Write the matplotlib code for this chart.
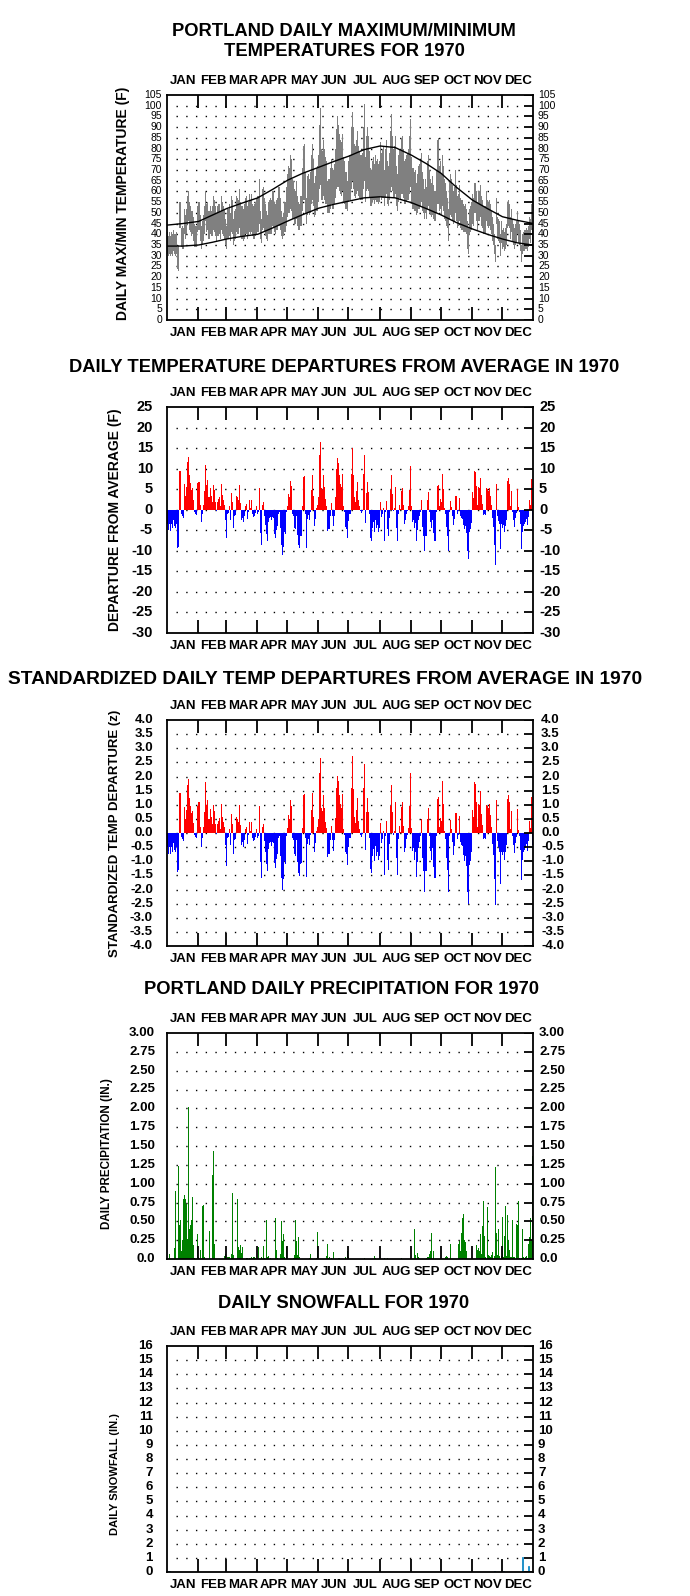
import numpy as np
import matplotlib
matplotlib.use('Agg')
import matplotlib.pyplot as plt

# ---------------- DATA ----------------
months = ['JAN', 'FEB', 'MAR', 'APR', 'MAY', 'JUN', 'JUL', 'AUG', 'SEP', 'OCT', 'NOV', 'DEC']
month_starts = [0, 31, 59, 90, 120, 151, 181, 212, 243, 273, 304, 334, 365]

# daily maximum temperature (F)
tmax = [
    41, 39, 41, 39, 41, 40, 42, 40, 40, 41, 34, 35, 55, 55, 43, 44, 43, 52, 49, 52, 58, 60, 55, 53, 51, 51, 48, 45, 44, 44, 53,
    55, 55, 49, 44, 46, 49, 53, 60, 54, 55, 51, 51, 53, 51, 53, 58, 56, 53, 50, 53, 54, 54, 51, 58, 55, 53, 52, 47,
    44, 52, 52, 54, 50, 58, 56, 47, 51, 52, 58, 57, 56, 61, 55, 53, 53, 52, 54, 57, 58, 53, 55, 59, 56, 59, 54, 53, 54, 55, 57,
    58, 58, 66, 51, 47, 61, 62, 57, 54, 51, 49, 55, 56, 57, 56, 60, 60, 55, 54, 56, 57, 62, 62, 57, 51, 48, 50, 55, 55, 62,
    68, 72, 71, 77, 75, 66, 65, 61, 60, 65, 58, 55, 54, 58, 58, 71, 81, 82, 69, 57, 67, 68, 66, 69, 77, 82, 75, 64, 67, 71, 72,
    77, 91, 99, 80, 79, 84, 80, 76, 74, 65, 66, 66, 71, 75, 71, 70, 73, 80, 89, 95, 91, 87, 84, 83, 87, 76, 74, 69, 69, 65,
    74, 77, 90, 97, 90, 82, 81, 84, 88, 81, 79, 77, 77, 78, 90, 101, 76, 86, 90, 86, 79, 71, 70, 74, 76, 73, 77, 74, 75, 73, 74,
    83, 78, 80, 81, 70, 80, 84, 74, 72, 78, 88, 96, 86, 80, 81, 86, 72, 68, 77, 80, 79, 85, 86, 80, 74, 75, 77, 78, 80, 86, 94,
    76, 71, 71, 69, 70, 64, 68, 72, 73, 74, 78, 69, 66, 61, 66, 62, 74, 77, 70, 66, 64, 67, 63, 60, 60, 70, 84, 85, 72, 74,
    68, 77, 72, 66, 64, 60, 57, 52, 65, 68, 66, 63, 60, 62, 70, 63, 58, 59, 63, 57, 56, 56, 54, 53, 54, 52, 46, 43, 52, 53, 55,
    59, 57, 64, 64, 60, 55, 60, 60, 63, 58, 56, 53, 53, 53, 60, 56, 55, 56, 54, 51, 48, 45, 40, 35, 57, 48, 47, 46, 40, 46,
    42, 43, 41, 43, 45, 55, 56, 54, 48, 52, 47, 45, 43, 45, 46, 51, 46, 45, 42, 35, 40, 41, 42, 42, 43, 42, 44, 48, 47, 54, 43,
]
# daily minimum temperature (F)
tmin = [
    31, 30, 31, 30, 31, 30, 32, 31, 30, 31, 24, 23, 43, 43, 34, 33, 33, 40, 38, 40, 45, 46, 42, 41, 39, 40, 37, 34, 34, 34, 41,
    42, 42, 37, 33, 35, 37, 40, 46, 41, 42, 38, 38, 40, 39, 39, 42, 41, 39, 37, 39, 39, 40, 38, 42, 40, 39, 38, 35,
    33, 38, 38, 39, 37, 41, 40, 35, 37, 38, 41, 40, 40, 43, 39, 38, 38, 37, 38, 40, 40, 38, 39, 41, 40, 41, 39, 38, 38, 39, 40,
    41, 41, 45, 38, 36, 42, 43, 41, 39, 38, 37, 40, 40, 40, 40, 44, 43, 41, 40, 42, 42, 44, 44, 42, 39, 38, 39, 41, 41, 44,
    48, 50, 50, 52, 51, 47, 47, 45, 45, 47, 44, 42, 42, 44, 44, 51, 56, 56, 50, 45, 49, 50, 49, 50, 54, 56, 53, 48, 49, 51, 51,
    55, 61, 63, 56, 56, 58, 56, 54, 54, 50, 50, 50, 52, 54, 52, 52, 54, 57, 61, 62, 62, 60, 59, 58, 60, 55, 54, 52, 52, 51,
    55, 56, 61, 65, 61, 58, 57, 59, 60, 58, 57, 56, 56, 56, 61, 65, 55, 60, 61, 60, 57, 53, 53, 55, 56, 54, 56, 55, 55, 54, 55,
    58, 56, 57, 57, 53, 57, 59, 54, 53, 56, 60, 62, 60, 57, 57, 59, 53, 51, 55, 57, 56, 59, 59, 57, 54, 54, 55, 56, 56, 59, 62,
    54, 52, 52, 51, 51, 49, 50, 52, 52, 53, 55, 51, 50, 47, 50, 47, 52, 53, 50, 49, 48, 49, 47, 46, 46, 50, 54, 54, 51, 52,
    49, 53, 51, 47, 46, 44, 43, 37, 47, 49, 48, 46, 45, 46, 50, 46, 43, 44, 46, 43, 42, 42, 41, 41, 41, 40, 33, 31, 40, 41, 42,
    45, 44, 50, 50, 46, 42, 46, 46, 48, 44, 43, 40, 40, 40, 46, 44, 43, 44, 42, 40, 37, 35, 31, 27, 45, 38, 37, 36, 30, 36,
    33, 34, 32, 33, 35, 43, 44, 43, 38, 41, 37, 35, 33, 35, 36, 40, 36, 35, 32, 27, 31, 32, 32, 33, 33, 32, 34, 38, 36, 42, 33,
]

# normal max / min temperature curves (day of year, F)
normal_days = [0, 15, 31, 45, 59, 74, 90, 105, 120, 135, 151, 166, 181, 196, 212, 227, 243, 258, 273, 288, 304, 319, 334, 349, 364]
normal_max = [44.3, 45.0, 46.0, 49.0, 52.0, 54.5, 57.0, 61.0, 65.3, 68.5, 71.3, 74.0, 76.5, 79.5, 81.2, 80.5, 77.0, 73.0, 68.4, 62.0, 56.0, 52.0, 48.2, 46.5, 45.1]
normal_min = [34.5, 34.5, 35.0, 36.3, 37.8, 39.0, 40.0, 43.0, 46.2, 49.2, 52.2, 54.0, 55.5, 57.0, 57.5, 57.0, 54.8, 52.0, 49.0, 45.5, 42.5, 40.0, 37.8, 36.0, 35.0]

# daily temperature departure from average (F)
departure = [
    -3.5, -5.0, -3.5, -5.2, -3.5, -4.5, -2.5, -4.0, -4.5, -3.5, -9.3, -9.0, 9.5, 9.5, -1.0, -1.5, -2.0, 6.3, 3.3, 5.5, 11.5, 12.9, 8.4, 6.5, 4.8, 5.3, 2.4, -0.5, -1.0, -1.2, 6.5,
    6.7, 6.7, 1.2, -3.0, -1.0, 1.2, 4.6, 11.0, 6.0, 7.2, 3.0, 3.0, 5.2, 3.4, 2.0, 6.0, 4.8, 2.0, -0.3, 2.0, 2.5, 3.2, 0.8, 6.2, 3.5, 2.4, 1.2, -2.6,
    -7.0, -1.0, -0.8, 0.8, -2.6, 4.0, 2.0, -4.5, -1.5, -1.2, 3.4, 3.0, 2.3, 6.0, 1.6, -2.5, -2.0, -3.0, -1.5, 0.8, 1.4, -2.3, -0.5, 2.4, 0.5, 2.4, -1.0, -1.8, -1.5, -0.8, 0.8,
    -1.0, -0.5, 5.3, -5.6, -8.7, 1.1, 1.8, -1.5, -3.7, -6.0, -7.5, -3.0, -2.0, -1.7, -2.5, -1.8, -2.0, -5.8, -6.8, -5.0, -4.0, -1.0, -0.5, -4.5, -8.7, -11.0, -9.0, -5.5, -6.0, -0.5,
    1.0, 3.9, 3.0, 7.0, 5.7, -1.0, -1.5, -4.5, -4.8, -1.5, -6.2, -8.6, -9.2, -6.5, -6.3, 1.0, 8.0, 8.2, -1.0, -9.3, -2.3, -1.2, -2.5, -0.5, 4.8, 8.4, 3.4, -4.0, -2.2, 0.5, 1.2,
    3.0, 13.2, 16.5, 5.4, 4.8, 8.4, 5.5, 2.5, 1.0, -5.2, -4.6, -4.6, -1.5, 1.6, -1.5, -4.0, -1.5, 3.2, 10.0, 12.6, 11.4, 8.4, 6.3, 5.5, 8.6, 0.8, -0.5, -4.3, -4.6, -7.0,
    -2.7, -1.0, 8.8, 15.0, 8.5, 3.1, 2.0, 4.5, 6.8, 2.4, 0.8, -0.4, -0.8, -0.3, 8.8, 13.4, -3.3, 4.0, 6.8, 4.2, -1.0, -7.0, -7.7, -4.5, -3.0, -5.5, -2.5, -4.4, -3.8, -5.3, -4.5,
    1.8, -1.8, -1.0, 0.3, -7.5, -0.5, 2.1, -4.8, -6.5, -2.0, 4.8, 8.5, 3.8, -0.3, 0.4, 5.5, -4.5, -7.5, -1.0, 1.2, 0.2, 4.6, 5.4, 1.2, -3.4, -2.6, -1.0, -0.3, 0.8, 4.8, 10.6,
    0.8, -3.0, -2.6, -4.5, -3.3, -7.5, -5.0, -2.5, -1.5, -0.5, 2.4, -4.3, -6.5, -10.0, -6.5, -6.5, 2.4, 4.2, -0.5, -3.0, -4.5, -2.5, -5.7, -7.7, -7.7, -0.5, 5.8, 6.1, 1.0, 2.5,
    2.0, 8.8, 5.0, 0.3, -1.0, -4.3, -6.3, -10.0, -0.5, 2.2, 0.6, -1.6, -3.7, -2.2, 3.4, 3.4, -1.0, -0.3, 2.9, -1.6, -2.1, -2.2, -3.7, -4.7, -4.0, -5.6, -10.0, -12.0, -5.5, -4.8, -3.3,
    4.4, 2.9, 9.5, 9.3, 5.8, 1.2, 5.5, 5.2, 7.8, 3.5, 1.5, -1.2, -1.0, -1.2, 5.2, 5.0, 4.6, 5.4, 3.3, 1.1, -2.0, -4.2, -8.6, -13.5, 6.2, -1.5, -2.7, -3.5, -9.5, -3.5,
    -4.5, -3.8, -5.5, -4.0, -2.4, 7.0, 7.8, 6.3, 0.8, 4.6, -0.5, -2.5, -4.2, -2.0, -0.8, 5.0, 0.6, -0.6, -3.5, -9.6, -5.5, -4.0, -3.5, -3.0, -2.3, -3.6, -1.7, 2.4, 1.1, 7.5, -2.4,
]

# standardized daily temperature departure (z)
zdep = [
    -0.51, -0.74, -0.51, -0.76, -0.51, -0.66, -0.37, -0.59, -0.66, -0.51, -1.37, -1.32, 1.40, 1.40, -0.15, -0.22, -0.29, 0.93, 0.49, 0.81, 1.69, 1.90, 1.24, 0.96, 0.71, 0.78, 0.35, -0.07, -0.15, -0.18, 0.96,
    1.10, 1.10, 0.20, -0.49, -0.16, 0.20, 0.75, 1.80, 0.98, 1.18, 0.49, 0.49, 0.85, 0.56, 0.33, 0.98, 0.79, 0.33, -0.05, 0.33, 0.41, 0.52, 0.13, 1.02, 0.57, 0.39, 0.20, -0.43,
    -1.17, -0.17, -0.13, 0.13, -0.43, 0.67, 0.33, -0.75, -0.25, -0.20, 0.57, 0.50, 0.38, 1.00, 0.27, -0.42, -0.33, -0.50, -0.25, 0.13, 0.23, -0.38, -0.08, 0.40, 0.08, 0.40, -0.17, -0.30, -0.25, -0.13, 0.13,
    -0.18, -0.09, 0.96, -1.02, -1.58, 0.20, 0.33, -0.27, -0.67, -1.09, -1.36, -0.55, -0.36, -0.31, -0.45, -0.33, -0.36, -1.05, -1.24, -0.91, -0.73, -0.18, -0.09, -0.82, -1.58, -2.00, -1.64, -1.00, -1.09, -0.09,
    0.17, 0.65, 0.50, 1.17, 0.95, -0.17, -0.25, -0.75, -0.80, -0.25, -1.03, -1.43, -1.53, -1.08, -1.05, 0.17, 1.33, 1.37, -0.17, -1.55, -0.38, -0.20, -0.42, -0.08, 0.80, 1.40, 0.57, -0.67, -0.37, 0.08, 0.20,
    0.48, 2.13, 2.66, 0.87, 0.77, 1.35, 0.89, 0.40, 0.16, -0.84, -0.74, -0.74, -0.24, 0.26, -0.24, -0.65, -0.24, 0.52, 1.61, 2.03, 1.84, 1.35, 1.02, 0.89, 1.39, 0.13, -0.08, -0.69, -0.74, -1.13,
    -0.49, -0.18, 1.60, 2.73, 1.55, 0.56, 0.36, 0.82, 1.24, 0.44, 0.15, -0.07, -0.15, -0.05, 1.60, 2.44, -0.60, 0.73, 1.24, 0.76, -0.18, -1.27, -1.40, -0.82, -0.55, -1.00, -0.45, -0.80, -0.69, -0.96, -0.82,
    0.36, -0.36, -0.20, 0.06, -1.50, -0.10, 0.42, -0.96, -1.30, -0.40, 0.96, 1.70, 0.76, -0.06, 0.08, 1.10, -0.90, -1.50, -0.20, 0.24, 0.04, 0.92, 1.08, 0.24, -0.68, -0.52, -0.20, -0.06, 0.16, 0.96, 2.12,
    0.17, -0.63, -0.54, -0.94, -0.69, -1.56, -1.04, -0.52, -0.31, -0.10, 0.50, -0.90, -1.35, -2.08, -1.35, -1.35, 0.50, 0.88, -0.10, -0.63, -0.94, -0.52, -1.19, -1.60, -1.60, -0.10, 1.21, 1.27, 0.21, 0.52,
    0.42, 1.83, 1.04, 0.06, -0.21, -0.90, -1.31, -2.08, -0.10, 0.46, 0.13, -0.33, -0.77, -0.46, 0.71, 0.71, -0.21, -0.06, 0.60, -0.33, -0.44, -0.46, -0.77, -0.98, -0.83, -1.17, -2.08, -2.50, -1.15, -1.00, -0.69,
    0.83, 0.55, 1.79, 1.75, 1.09, 0.23, 1.04, 0.98, 1.47, 0.66, 0.28, -0.23, -0.19, -0.23, 0.98, 0.94, 0.87, 1.02, 0.62, 0.21, -0.38, -0.79, -1.62, -2.55, 1.17, -0.28, -0.51, -0.66, -1.79, -0.66,
    -0.78, -0.66, -0.95, -0.69, -0.41, 1.21, 1.34, 1.09, 0.14, 0.79, -0.09, -0.43, -0.72, -0.34, -0.14, 0.86, 0.10, -0.10, -0.60, -1.66, -0.95, -0.69, -0.60, -0.52, -0.40, -0.62, -0.29, 0.41, 0.19, 1.29, -0.41,
]

# daily precipitation (inches) on days with measurable amounts
precip_days = [2, 7, 8, 11, 12, 13, 14, 15, 16, 17, 18, 19, 20, 21, 22, 23, 24, 25, 26, 27, 30, 31, 33, 35, 36, 37, 42, 45, 46, 47,
               57, 58, 60, 61, 62, 64, 65, 66, 70, 71, 72, 73, 74, 75, 79, 80, 82, 83, 84, 85, 86, 87, 88, 91, 94, 96, 97, 99, 100, 101,
               103, 108, 109, 110, 113, 114, 115, 116, 117, 119, 126, 127, 128, 129, 130, 131, 132, 142, 143, 149, 150, 159, 160, 161, 162, 164, 166, 171, 172, 178,
               180, 181, 196, 206, 207, 216, 219, 233, 242, 243, 246, 247, 249, 250, 251, 258, 259, 260, 261, 262, 263, 265, 277, 278, 279, 282, 290, 291, 292, 293,
               294, 295, 296, 297, 298, 308, 309, 310, 311, 312, 313, 314, 315, 316, 317, 319, 320, 321, 322, 323, 324, 326, 327, 328, 329, 330, 331, 333, 334, 335,
               336, 337, 338, 339, 340, 341, 342, 343, 344, 345, 346, 348, 349, 350, 351, 353, 354, 355, 356, 357, 358, 360, 361, 362, 363, 364]
precip_vals = [0.07, 0.14, 0.90, 1.24, 0.45, 0.52, 0.10, 0.25, 0.80, 0.85, 0.80, 0.73, 0.27, 2.02, 0.40, 0.45, 0.52, 0.82, 0.18, 0.01, 0.33, 0.02, 0.12, 0.70, 0.72, 0.02, 0.37, 1.12, 1.43, 0.20,
               0.04, 0.06, 0.03, 0.02, 0.02, 0.06, 0.88, 0.05, 0.80, 0.16, 0.12, 0.18, 0.08, 0.16, 0.01, 0.01, 0.01, 0.01, 0.02, 0.01, 0.02, 0.03, 0.01, 0.16, 0.02, 0.17, 0.01, 0.52, 0.02, 0.04,
               0.01, 0.54, 0.12, 0.01, 0.07, 0.50, 0.24, 0.33, 0.02, 0.16, 0.01, 0.05, 0.52, 0.24, 0.05, 0.29, 0.02, 0.01, 0.06, 0.01, 0.36, 0.04, 0.20, 0.01, 0.02, 0.01, 0.09, 0.01, 0.01, 0.03,
               0.10, 0.03, 0.01, 0.04, 0.01, 0.01, 0.01, 0.01, 0.01, 0.01, 0.40, 0.05, 0.08, 0.02, 0.01, 0.01, 0.02, 0.02, 0.06, 0.10, 0.35, 0.11, 0.02, 0.04, 0.02, 0.20, 0.20, 0.24, 0.10, 0.35,
               0.54, 0.60, 0.25, 0.22, 0.10, 0.18, 0.12, 0.15, 0.10, 0.33, 0.07, 0.44, 0.77, 0.30, 0.03, 0.69, 0.05, 0.04, 0.03, 0.05, 0.09, 0.04, 1.22, 0.35, 0.05, 0.40, 0.04, 0.04, 0.56, 0.03,
               0.30, 0.71, 0.04, 0.58, 0.25, 0.12, 0.03, 0.02, 0.52, 0.03, 0.02, 0.47, 0.45, 0.77, 0.01, 0.01, 0.40, 0.02, 0.01, 0.03, 0.04, 0.20, 0.29, 0.55, 0.25, 1.37]

# daily snowfall (inches) on days with snow
snow_days = [1, 2, 326, 335, 354, 360]
snow_vals = [0.05, 0.05, 0.05, 0.05, 1.05, 0.40]

# ---------------- LAYOUT ----------------
W, H = 690, 1596
fig = plt.figure(figsize=(W / 100, H / 100), dpi=100)
fig.patch.set_facecolor('white')

AX_L, AX_R = 167, 533
FONT = ['Liberation Sans', 'DejaVu Sans']
NARROW = ['Liberation Sans Narrow', 'Liberation Sans', 'DejaVu Sans']

days = np.arange(365)


def make_axes(top, bottom):
    ax = fig.add_axes([AX_L / W, 1 - bottom / H, (AX_R - AX_L) / W, (bottom - top) / H])
    return ax


def decorate(ax, ymin, ymax, levels, labels, lab_size, lab_weight, lgap, rgap, grid_levels, hpx):
    ax.set_xlim(0, 365)
    ax.set_ylim(ymin, ymax)
    ax.set_xticks([])
    ax.set_yticks([])
    for s in ax.spines.values():
        s.set_linewidth(1.3)
        s.set_color('black')
    wpx = AX_R - AX_L
    # dotted grid
    ax.hlines(grid_levels, 9, 357, colors='black', linestyles=(0, (1, 6)), linewidth=1.0, zorder=1)
    # month boundary ticks (top and bottom, inward)
    tl = 13.0 / hpx
    xt = ax.get_xaxis_transform()
    ax.vlines(month_starts[1:12], 1 - tl, 1, transform=xt, colors='black', linewidth=1.3, zorder=5)
    ax.vlines(month_starts[1:12], 0, tl, transform=xt, colors='black', linewidth=1.3, zorder=5)
    # right-side inward ticks
    yt = ax.get_yaxis_transform()
    ax.hlines(levels, 1 - 9.0 / wpx, 1, transform=yt, colors='black', linewidth=1.3, zorder=5)
    # tick labels both sides
    for v, t in zip(levels, labels):
        ax.text(-lgap / wpx, v, t, transform=yt, ha='right', va='center', fontsize=lab_size,
                fontweight=lab_weight, family=FONT)
        ax.text(1 + rgap / wpx, v, t, transform=yt, ha='left', va='center', fontsize=lab_size,
                fontweight=lab_weight, family=FONT)
    # month labels top and bottom
    for i, m in enumerate(months):
        c = 0.5 * (month_starts[i] + month_starts[i + 1]) + 1
        ax.text(c, 1 + 14.0 / hpx, m, transform=xt, ha='center', va='center', fontsize=9.5,
                fontweight='bold', family=NARROW)
        ax.text(c, -13.0 / hpx, m, transform=xt, ha='center', va='center', fontsize=9.5,
                fontweight='bold', family=NARROW)


def title(y, text, x=344, size=13.2):
    fig.text(x / W, 1 - y / H, text, ha='center', va='center', fontsize=size, fontweight='bold', family=FONT)


def ylabel(yc, x, text, size=9.5):
    fig.text(x / W, 1 - yc / H, text, ha='center', va='center', rotation=90,
             fontsize=size, fontweight='bold', family=FONT)


# ---------- Panel 1: max/min temperatures ----------
t1, b1 = 95, 320
ax1 = make_axes(t1, b1)
tmax_a = np.array(tmax, dtype=float)
tmin_a = np.array(tmin, dtype=float)
ax1.bar(days, tmax_a - tmin_a, bottom=tmin_a, width=1.0, align='edge', color='#808080',
        linewidth=0, antialiased=False, zorder=2)
ax1.plot(np.array(normal_days) + 0.5, normal_max, color='black', linewidth=1.0, zorder=3)
ax1.plot(np.array(normal_days) + 0.5, normal_min, color='black', linewidth=1.0, zorder=3)
lv1 = list(range(0, 106, 5))
decorate(ax1, 0, 105, lv1, [str(v) for v in lv1], 7.5, 'normal', 5, 5, lv1[1:-1], b1 - t1)
title(32, 'PORTLAND DAILY MAXIMUM/MINIMUM')
title(51, 'TEMPERATURES FOR 1970')
ylabel(0.5 * (t1 - 8 + b1), 123, 'DAILY MAX/MIN TEMPERATURE (F)', 10)

# ---------- Panel 2: departures ----------
t2, b2 = 407, 633
ax2 = make_axes(t2, b2)
dep = np.array(departure)
ax2.bar(days, dep, width=1.0, align='edge', color=np.where(dep >= 0, '#ff0000', '#0000ff'),
        linewidth=0, antialiased=False, zorder=2)
lv2 = list(range(-30, 26, 5))
decorate(ax2, -30, 25, lv2, [str(v) for v in lv2], 10.5, 'bold', 14, 6, lv2[1:-1], b2 - t2)
title(367, 'DAILY TEMPERATURE DEPARTURES FROM AVERAGE IN 1970')
ylabel(0.5 * (t2 + b2), 115, 'DEPARTURE FROM AVERAGE (F)', 10)

# ---------- Panel 3: standardized departures ----------
t3, b3 = 720, 946
ax3 = make_axes(t3, b3)
z = np.array(zdep)
ax3.bar(days, z, width=1.0, align='edge', color=np.where(z >= 0, '#ff0000', '#0000ff'),
        linewidth=0, antialiased=False, zorder=2)
lv3 = [x / 2 for x in range(-8, 9)]
decorate(ax3, -4, 4, lv3, ['%.1f' % v for v in lv3], 9.5, 'bold', 14, 8, lv3[1:-1], b3 - t3)
title(680, 'STANDARDIZED DAILY TEMP DEPARTURES FROM AVERAGE IN 1970', x=325, size=13.8)
ylabel(0.5 * (t3 + b3), 115, 'STANDARDIZED TEMP DEPARTURE (z)', 9.5)

# ---------- Panel 4: precipitation ----------
t4, b4 = 1033, 1259
ax4 = make_axes(t4, b4)
ax4.bar(precip_days, precip_vals, width=1.0, align='edge', color='#008000', linewidth=0,
        antialiased=False, zorder=2)
lv4 = [x / 4 for x in range(0, 13)]
lab4 = ['0.0'] + ['%.2f' % v for v in lv4[1:]]
decorate(ax4, 0, 3, lv4, lab4, 9.5, 'bold', 12, 6, lv4[1:-1], b4 - t4)
title(989, 'PORTLAND DAILY PRECIPITATION FOR 1970', x=342)
ylabel(1154, 107, 'DAILY PRECIPITATION (IN.)', 8.4)

# ---------- Panel 5: snowfall ----------
t5, b5 = 1346, 1572
ax5 = make_axes(t5, b5)
ax5.bar(snow_days, snow_vals, width=1.0, align='edge', color='#0080c0', edgecolor='#0080c0',
        linewidth=0.5, zorder=2)
lv5 = list(range(0, 17))
decorate(ax5, 0, 16, lv5, [str(v) for v in lv5], 9.5, 'bold', 14, 5, lv5[1:-1], b5 - t5)
title(1303, 'DAILY SNOWFALL FOR 1970')
ylabel(1474, 115, 'DAILY SNOWFALL (IN.)', 8.0)

fig.savefig('out.png', dpi=100, facecolor='white')
